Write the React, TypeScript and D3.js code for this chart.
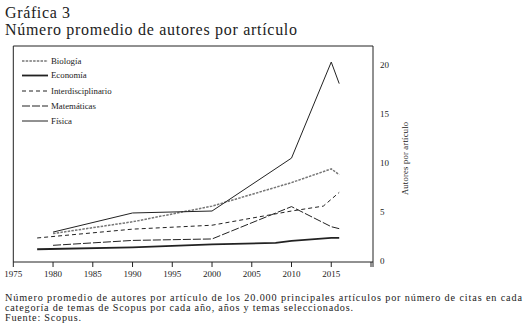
import React from "react";
import * as d3 from "d3";

const biologiaX = [1980, 1990, 2000, 2010, 2015, 2016];
const biologiaY = [2.8, 4.0, 5.6, 8.0, 9.4, 8.8];

const economiaX = [1978, 1990, 2000, 2008, 2010, 2015, 2016];
const economiaY = [1.2, 1.4, 1.7, 1.85, 2.05, 2.35, 2.35];

const interX = [1978, 1990, 2000, 2010, 2014, 2016];
const interY = [2.35, 3.25, 3.65, 5.1, 5.6, 7.0];

const matX = [1980, 1990, 2000, 2010, 2015, 2016];
const matY = [1.6, 2.1, 2.25, 5.55, 3.5, 3.3];

const fisicaX = [1980, 1990, 2000, 2010, 2015, 2016];
const fisicaY = [2.95, 4.9, 5.1, 10.5, 20.3, 18.1];

const xTicks = [1975, 1980, 1985, 1990, 1995, 2000, 2005, 2010, 2015, 2020];
const xTickLabels = ["1975", "1980", "1985", "1990", "1995", "2000", "2005", "2010", "2015", ""];
const yTicks = [0, 5, 10, 15, 20];

const seriesNames = ["Biología", "Economía", "Interdisciplinario", "Matemáticas", "Física"];

const FONT = "'Liberation Serif', 'DejaVu Serif', serif";

export default function App() {
  const W = 526, H = 330;
  const left = 13.3, right = 371, top = 46, bottom = 262;
  const x = d3.scaleLinear().domain([1975, 2020]).range([left, right]);
  const y = d3.scaleLinear().domain([0, 22]).range([261, 45.4]);

  const line = d3.line<[number, number]>().x(d => x(d[0])).y(d => y(d[1]));
  const mk = (xs: number[], ys: number[]) => line(xs.map((v, i) => [v, ys[i]] as [number, number])) || "";

  const series = [
    { name: seriesNames[0], d: mk(biologiaX, biologiaY), stroke: "#777", width: 1.5, dash: "2.5,1.2" },
    { name: seriesNames[1], d: mk(economiaX, economiaY), stroke: "#222", width: 1.8, dash: "" },
    { name: seriesNames[2], d: mk(interX, interY), stroke: "#222", width: 1, dash: "4,3" },
    { name: seriesNames[3], d: mk(matX, matY), stroke: "#222", width: 1, dash: "8,2" },
    { name: seriesNames[4], d: mk(fisicaX, fisicaY), stroke: "#222", width: 1, dash: "" },
  ];

  const legendY = [61, 75.5, 91, 106, 121];

  return (
    <svg width={W} height={H} style={{ position: "absolute", left: 0, top: 0, background: "#fff" }} fontFamily={FONT}>
      <rect width={W} height={H} fill="#fff" />
      <text x={5} y={18} fontSize={16} fill="#222" textLength={65} lengthAdjust="spacing">Gráfica 3</text>
      <text x={5} y={35} fontSize={16} fill="#222" textLength={292} lengthAdjust="spacing">Número promedio de autores por artículo</text>

      {/* frame */}
      <line x1={left} x2={right + 2} y1={top} y2={top} stroke="#222" strokeWidth={1} />
      <line x1={left} x2={left} y1={top} y2={bottom} stroke="#222" strokeWidth={1} />
      <line x1={right + 2} x2={right + 2} y1={top} y2={bottom + 5} stroke="#222" strokeWidth={1} />
      <line x1={left} x2={right + 2} y1={bottom} y2={bottom} stroke="#222" strokeWidth={1} />

      {xTicks.map((t, i) => (
        <g key={t}>
          <line x1={x(t)} x2={x(t)} y1={bottom} y2={bottom + 5} stroke="#222" strokeWidth={1} />
          <text x={x(t)} y={277} fontSize={9} textAnchor="middle" fill="#222">{xTickLabels[i]}</text>
        </g>
      ))}

      {yTicks.map(t => (
        <text key={t} x={380} y={y(t) + 3} fontSize={9} fill="#222">{t}</text>
      ))}
      <text transform={`translate(408,158.5) rotate(-90)`} fontSize={8.5} textAnchor="middle" fill="#222" textLength={73} lengthAdjust="spacing">Autores por artículo</text>

      {series.map(s => (
        <path key={s.name} d={s.d} fill="none" stroke={s.stroke} strokeWidth={s.width} strokeDasharray={s.dash || undefined} />
      ))}

      {series.map((s, i) => (
        <g key={"lg" + s.name}>
          <line x1={22} x2={48} y1={legendY[i]} y2={legendY[i]} stroke={s.stroke} strokeWidth={s.width} strokeDasharray={s.dash || undefined} />
          <text x={51} y={legendY[i] + 2.8} fontSize={8.8} fill="#222">{s.name}</text>
        </g>
      ))}

      <text fontSize={10.2} fill="#222">
        <tspan x={5} y={301} textLength={517} lengthAdjust="spacing">Número promedio de autores por artículo de los 20.000 principales artículos por número de citas en cada</tspan>
        <tspan x={5} y={311} textLength={348} lengthAdjust="spacing">categoría de temas de Scopus por cada año, años y temas seleccionados.</tspan>
        <tspan x={5} y={321} textLength={76} lengthAdjust="spacing">Fuente: Scopus.</tspan>
      </text>
    </svg>
  );
}
